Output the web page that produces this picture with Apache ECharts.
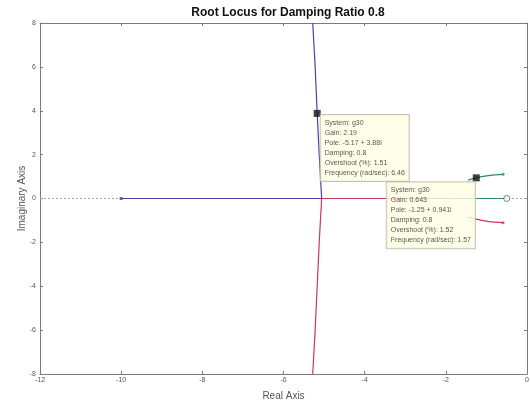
<!DOCTYPE html>
<html><head><meta charset="utf-8">
<script src="https://cdn.jsdelivr.net/npm/echarts@6/dist/echarts.min.js"></script>
<style>html,body{margin:0;padding:0;background:#fff}#c{width:530px;height:401px}</style>
</head><body><div id="c"></div>
<script>
// Axis ticks
const xTicks = [-12, -10, -8, -6, -4, -2, 0];
const yTicks = [-8, -6, -4, -2, 0, 2, 4, 6, 8];

// Root locus branches (real, imaginary)
const blueReal = [[-10, 0], [-5.06, 0]];
const blueUpper = [[-5.06, 0], [-5.09, 1], [-5.12, 2], [-5.17, 3.88], [-5.22, 6], [-5.28, 8]];
const redReal = [[-5.06, 0], [-2.0, 0]];
const redLower = [[-5.06, 0], [-5.09, -1], [-5.12, -2], [-5.17, -4], [-5.22, -6], [-5.28, -8]];
const greenReal = [[-2.0, 0], [-0.5, 0]];
const tealComplex = [[-1.45, 0.84], [-1.25, 0.941], [-1.0, 1.03], [-0.8, 1.08], [-0.59, 1.1]];
const redComplex = [[-1.45, -0.84], [-1.25, -0.941], [-1.0, -1.03], [-0.8, -1.08], [-0.59, -1.1]];
const realAxisLine = [[-12, 0], [0, 0]];

// Open-loop poles / zeros
const poleBlue = [[-10, 0]];
const poleTeal = [[-0.59, 1.1]];
const poleRed = [[-0.59, -1.1]];
const zeros = [[-0.5, 0]];

// Data tips
const tip1 = { point: [-5.17, 3.88], lines: ['System: g30', 'Gain: 2.19', 'Pole: -5.17 + 3.88i', 'Damping: 0.8', 'Overshoot (%): 1.51', 'Frequency (rad/sec): 6.46'] };
const tip2 = { point: [-1.25, 0.941], lines: ['System: g30', 'Gain: 0.643', 'Pole: -1.25 + 0.941i', 'Damping: 0.8', 'Overshoot (%): 1.52', 'Frequency (rad/sec): 1.57'] };

const BLUE = '#4646a6', RED = '#c8385c', TEAL = '#2f8a6c';
const FONT = '"Liberation Sans", Arial, sans-serif';

function lineSeries(data, color, extra) {
  return Object.assign({ type: 'line', data: data, showSymbol: false, symbol: 'none', lineStyle: { color: color, width: 1.2 }, z: 3, animation: false, silent: true }, extra || {});
}
function tipLabel(tip, pos) {
  return {
    type: 'scatter', z: 20, zlevel: 1, animation: false, silent: true,
    data: [tip.point], symbol: 'rect', symbolSize: 7, itemStyle: { color: '#111' },
    label: {
      show: true, position: pos, align: 'left', verticalAlign: 'top',
      formatter: () => tip.lines.join('\n'),
      fontFamily: FONT, fontSize: 7, lineHeight: 10, color: '#2a2a2a',
      backgroundColor: '#ffffe3', borderColor: '#b8b8a8', borderWidth: 1, padding: [3, 4, 3, 4]
    }
  };
}

const axisCommon = {
  type: 'value', splitLine: { show: false },
  axisLine: { show: true, onZero: false, lineStyle: { color: '#7a7a7a', width: 1 } },
  axisTick: { show: true, inside: true, length: 3, lineStyle: { color: '#7a7a7a' } }
};

const chart = echarts.init(document.getElementById('c'), null, { renderer: 'canvas' });
chart.setOption({
  backgroundColor: '#fff',
  animation: false,
  title: { text: 'Root Locus for Damping Ratio 0.8', left: 283, top: 2, textAlign: 'center',
    textStyle: { fontFamily: FONT, fontSize: 12, fontWeight: 'bold', color: '#111' } },
  grid: { left: 40, right: 3, top: 23, bottom: 27, containLabel: false, outerBoundsMode: 'none' },
  xAxis: [
    Object.assign({}, axisCommon, { position: 'bottom', min: xTicks[0], max: xTicks[xTicks.length - 1], interval: 2,
      name: 'Real Axis', nameLocation: 'middle', nameGap: 17,
      nameTextStyle: { fontFamily: FONT, fontSize: 10, color: '#555' },
      axisLabel: { fontFamily: FONT, fontSize: 7, color: '#555', margin: 3 } }),
    Object.assign({}, axisCommon, { position: 'top', min: xTicks[0], max: xTicks[xTicks.length - 1], interval: 2,
      axisLabel: { show: false } })
  ],
  yAxis: [
    Object.assign({}, axisCommon, { position: 'left', min: yTicks[0], max: yTicks[yTicks.length - 1], interval: 2,
      name: 'Imaginary Axis', nameLocation: 'middle', nameGap: 13, nameRotate: 90, nameMoveOverlap: false,
      nameTextStyle: { fontFamily: FONT, fontSize: 10, color: '#555' },
      axisLabel: { fontFamily: FONT, fontSize: 7, color: '#555', margin: 4 } }),
    Object.assign({}, axisCommon, { position: 'right', min: yTicks[0], max: yTicks[yTicks.length - 1], interval: 2,
      axisLabel: { show: false } })
  ],
  series: [
    lineSeries(realAxisLine, '#aaa', { lineStyle: { color: '#a8a8a8', width: 1, type: [2, 2] }, z: 1 }),
    lineSeries(blueReal, BLUE),
    lineSeries(blueUpper, BLUE),
    lineSeries(redReal, RED),
    lineSeries(redLower, RED),
    lineSeries(greenReal, TEAL),
    lineSeries(tealComplex, TEAL, { smooth: true }),
    lineSeries(redComplex, RED, { smooth: true }),
    { type: 'scatter', data: poleBlue, symbol: 'rect', symbolSize: 3, itemStyle: { color: BLUE }, z: 5, animation: false, silent: true },
    { type: 'scatter', data: poleTeal, symbol: 'circle', symbolSize: 3, itemStyle: { color: TEAL }, z: 5, animation: false, silent: true },
    { type: 'scatter', data: poleRed, symbol: 'circle', symbolSize: 3, itemStyle: { color: RED }, z: 5, animation: false, silent: true },
    { type: 'scatter', data: zeros, symbol: 'circle', symbolSize: 6, itemStyle: { color: '#fff', borderColor: '#4a6a5a', borderWidth: 1 }, z: 5, animation: false, silent: true },
    tipLabel(tip1, [7, 5]),
    tipLabel(tip2, [-86, 8])
  ]
});
</script>
</body></html>
